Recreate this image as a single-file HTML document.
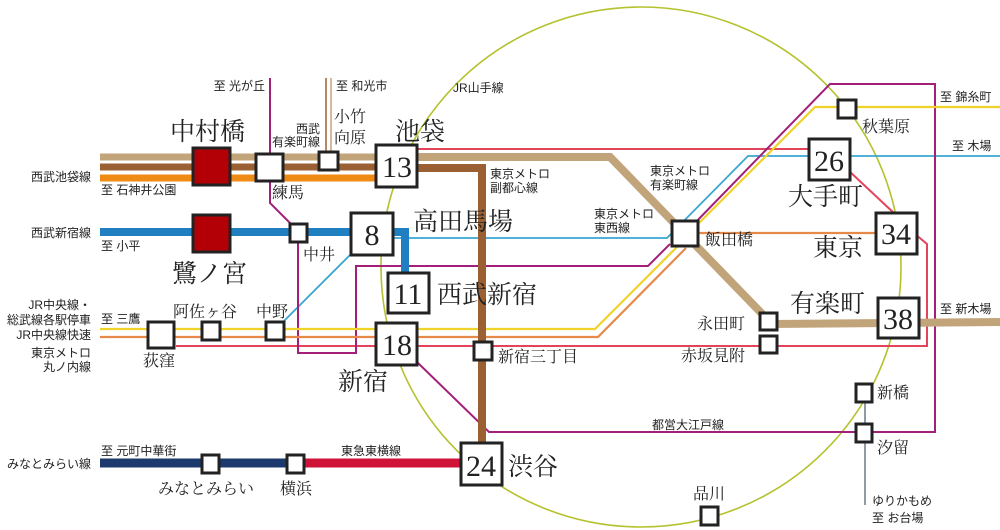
<!DOCTYPE html>
<html><head><meta charset="utf-8"><style>
html,body{margin:0;padding:0;background:#fff;}
svg{display:block}
.s{font-family:"Liberation Sans","Noto Sans CJK JP",sans-serif;fill:#222;}
.b{font-family:"Liberation Serif","Noto Serif CJK SC",serif;fill:#222;}
.n{font-family:"Liberation Serif","Noto Serif CJK SC",serif;fill:#222;text-anchor:middle;}
</style></head><body>
<svg width="1000" height="530" viewBox="0 0 1000 530" xmlns="http://www.w3.org/2000/svg">
<g fill="none" stroke-linejoin="miter">
<circle cx="641" cy="267" r="260" stroke="#b5c22e" stroke-width="1.6"/>
<polyline points="418,149 850,149" stroke="#e4445a" stroke-width="2"/>
<polyline points="848,170 895,214" stroke="#e4445a" stroke-width="2"/>
<polyline points="915,234 927,244 927,346 176,346" stroke="#e4445a" stroke-width="2"/>
<polyline points="275,330 355,250" stroke="#3aa6d0" stroke-width="1.8"/>
<polyline points="393,238 667,238 748,156 1000,156" stroke="#3aa6d0" stroke-width="1.8"/>
<polyline points="270,78 270,203 293,226" stroke="#a3207a" stroke-width="2"/>
<polyline points="298,240 298,353 356,353 356,266 648,266 670,244" stroke="#a3207a" stroke-width="2"/>
<polyline points="692,226 830,84 935,84 935,432 489,432 417,362" stroke="#a3207a" stroke-width="2"/>
<polyline points="100,329 595,329 680,244" stroke="#f0d22a" stroke-width="2.2"/>
<polyline points="694,228 815,107 1000,107" stroke="#f0d22a" stroke-width="2.2"/>
<polyline points="100,337 598,337 686,248" stroke="#e58a4a" stroke-width="2.2"/>
<polyline points="698,233 877,233" stroke="#e58a4a" stroke-width="2.2"/>
<line x1="326" y1="78" x2="326" y2="152" stroke="#9a6033" stroke-width="1.5"/>
<line x1="331" y1="78" x2="331" y2="152" stroke="#c2a47a" stroke-width="1.5"/>
<line x1="100" y1="157" x2="380" y2="157" stroke="#c2a47a" stroke-width="7"/>
<line x1="100" y1="167" x2="380" y2="167" stroke="#9a6033" stroke-width="7"/>
<line x1="100" y1="178" x2="380" y2="178" stroke="#ef8a15" stroke-width="7"/>
<polyline points="418,157 610,157 772,324 1000,322" stroke="#c2a47a" stroke-width="8"/>
<polyline points="418,168 482,168 482,445" stroke="#9a6033" stroke-width="8"/>
<polyline points="100,232 405,232 405,272" stroke="#1f7fc0" stroke-width="8"/>
<line x1="865" y1="384" x2="865" y2="505" stroke="#607080" stroke-width="1.4"/>
<line x1="100" y1="463" x2="298" y2="463" stroke="#1c3a6e" stroke-width="9"/>
<line x1="298" y1="463" x2="462" y2="463" stroke="#cf1238" stroke-width="9"/>
</g>
<g stroke="#222" stroke-width="3" fill="#fff">
<rect x="193" y="148" width="37" height="37" fill="#b30006"/>
<rect x="193" y="215" width="37" height="37" fill="#b30006"/>
<rect x="256" y="154" width="27" height="27"/>
<rect x="319" y="152" width="19" height="18"/>
<rect x="376" y="145" width="41" height="42"/>
<rect x="290" y="224" width="17" height="18"/>
<rect x="351" y="213" width="42" height="42"/>
<rect x="388" y="273" width="41" height="40"/>
<rect x="376" y="323" width="41" height="42"/>
<rect x="148" y="322" width="26" height="26"/>
<rect x="202" y="322" width="18" height="18"/>
<rect x="266" y="322" width="18" height="18"/>
<rect x="474" y="342" width="18" height="18"/>
<rect x="461" y="443" width="41" height="42"/>
<rect x="672" y="221" width="26" height="25"/>
<rect x="809" y="139" width="41" height="41"/>
<rect x="876" y="213" width="41" height="41"/>
<rect x="878" y="298" width="41" height="40"/>
<rect x="760" y="313" width="17" height="17"/>
<rect x="760" y="336" width="17" height="17"/>
<rect x="838" y="100" width="18" height="18"/>
<rect x="856" y="384" width="16" height="18"/>
<rect x="856" y="424" width="16" height="18"/>
<rect x="701" y="507" width="17" height="18"/>
<rect x="202" y="455" width="17" height="18"/>
<rect x="287" y="455" width="17" height="18"/>
</g>
<g class="n" font-size="30">
<text x="397" y="177">13</text>
<text x="372" y="245">8</text>
<text x="408" y="304">11</text>
<text x="397" y="355">18</text>
<text x="481" y="476">24</text>
<text x="829" y="171">26</text>
<text x="896" y="244">34</text>
<text x="898" y="329">38</text>
</g>
<g class="b" font-size="25">
<text x="170" y="140">中村橋</text>
<text x="172" y="282">鷺ノ宮</text>
<text x="395" y="140">池袋</text>
<text x="413" y="230">高田馬場</text>
<text x="437" y="303">西武新宿</text>
<text x="338" y="390">新宿</text>
<text x="508" y="475">渋谷</text>
<text x="788" y="205">大手町</text>
<text x="813" y="256">東京</text>
<text x="790" y="312">有楽町</text>
</g>
<g class="b" font-size="16">
<text x="272" y="198">練馬</text>
<text x="334" y="122">小竹</text>
<text x="334" y="143">向原</text>
<text x="303" y="260">中井</text>
<text x="173" y="317">阿佐ヶ谷</text>
<text x="256" y="317">中野</text>
<text x="143" y="366">荻窪</text>
<text x="498" y="362">新宿三丁目</text>
<text x="705" y="245">飯田橋</text>
<text x="862" y="132">秋葉原</text>
<text x="697" y="329">永田町</text>
<text x="681" y="361">赤坂見附</text>
<text x="877" y="398">新橋</text>
<text x="877" y="453">汐留</text>
<text x="693" y="499">品川</text>
<text x="158" y="494">みなとみらい</text>
<text x="280" y="494">横浜</text>
</g>
<g class="s" font-size="12">
<text x="265" y="90" text-anchor="end">至 光が丘</text>
<text x="336" y="90">至 和光市</text>
<text x="453" y="92">JR山手線</text>
<text x="320" y="133" text-anchor="end">西武</text>
<text x="320" y="146" text-anchor="end">有楽町線</text>
<text x="91" y="181" text-anchor="end">西武池袋線</text>
<text x="101" y="194">至 石神井公園</text>
<text x="91" y="237" text-anchor="end">西武新宿線</text>
<text x="101" y="250">至 小平</text>
<text x="91" y="309" text-anchor="end">JR中央線・</text>
<text x="91" y="324" text-anchor="end">総武線各駅停車</text>
<text x="101" y="323">至 三鷹</text>
<text x="91" y="339" text-anchor="end">JR中央線快速</text>
<text x="91" y="357" text-anchor="end">東京メトロ</text>
<text x="91" y="371" text-anchor="end">丸ノ内線</text>
<text x="490" y="178">東京メトロ</text>
<text x="490" y="192">副都心線</text>
<text x="650" y="175">東京メトロ</text>
<text x="650" y="189">有楽町線</text>
<text x="594" y="218">東京メトロ</text>
<text x="594" y="232">東西線</text>
<text x="940" y="101">至 錦糸町</text>
<text x="952" y="150">至 木場</text>
<text x="940" y="313">至 新木場</text>
<text x="652" y="429">都営大江戸線</text>
<text x="101" y="455">至 元町中華街</text>
<text x="91" y="468" text-anchor="end">みなとみらい線</text>
<text x="341" y="455">東急東横線</text>
<text x="872" y="505">ゆりかもめ</text>
<text x="872" y="522">至 お台場</text>
</g>
</svg>
</body></html>
